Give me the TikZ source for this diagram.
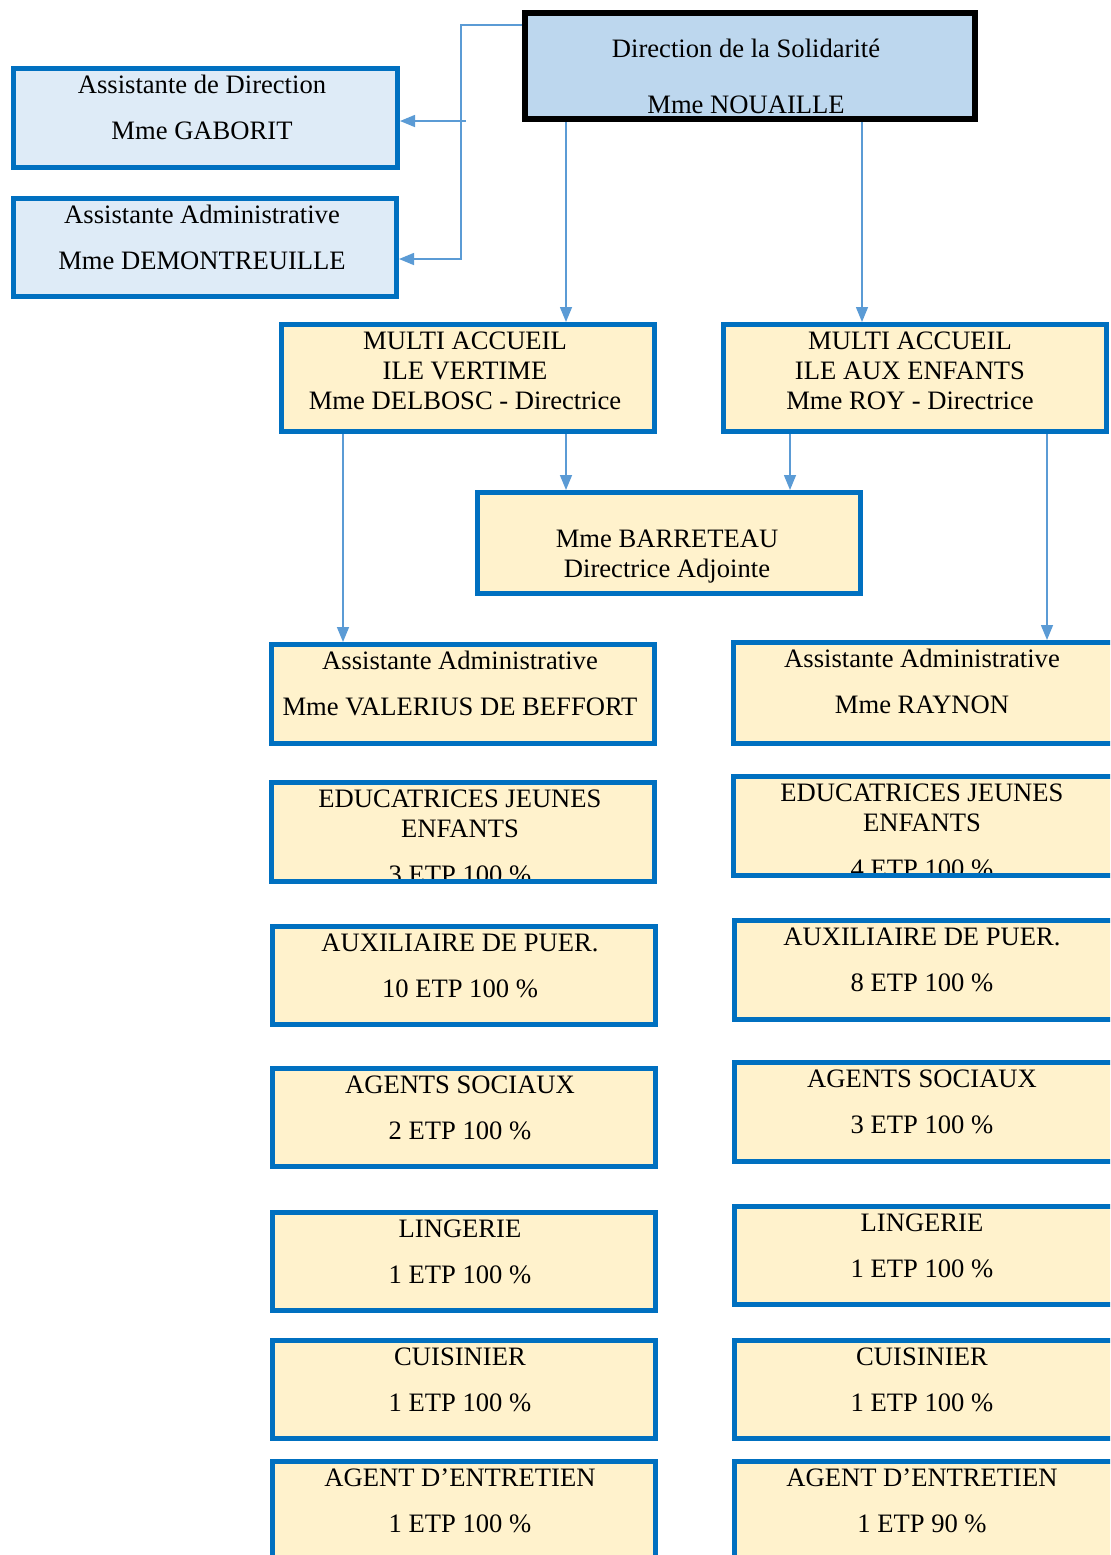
\documentclass[tikz,border=0pt]{standalone}
\usepackage{fontspec}
\setmainfont{Liberation Serif}
\usetikzlibrary{fit,arrows.meta}
\definecolor{yfill}{HTML}{FFF2CC}
\definecolor{bfill}{HTML}{DEEBF7}
\definecolor{dfill}{HTML}{BDD7EE}
\definecolor{bline}{HTML}{0070C0}
\definecolor{conncol}{HTML}{5B9BD5}
\tikzset{
 boxfill/.style={inner sep=0pt, outer sep=0pt, draw=none},
 txt/.style={anchor=base, inner sep=0pt, font=\fontsize{13.3}{15}\selectfont, text=black},
 conn/.style={draw=conncol, line width=0.75pt, -{Triangle[length=7.5pt,width=6pt]}},
}
\newcommand\orgbox[8]{%
 \node[boxfill, fill=#6, fit={(#2,#3) (#4,#5)}] (#1) {};
 \foreach \ty/\lab [count=\k] in {#8} {\node[txt] (#1-\k) at (#7,\ty+8) {\lab};}
 \draw[bline, line width=2.5pt] ([shift={(1.25pt,-1.25pt)}]#1.north west) rectangle ([shift={(-1.25pt,1.25pt)}]#1.south east);
}
\begin{document}
\begin{tikzpicture}[x=0.5pt,y=-0.5pt]
\useasboundingbox (0,0) rectangle (1110,1555);
\clip (0,0) rectangle (1110,1555);
% Direction
\node[boxfill, fill=dfill, fit={(522,10) (978,122)}] (D) {};
\node[txt] (D-1) at (746,57) {Direction de la Solidarité};
\node[txt] (D-2) at (746,113) {Mme NOUAILLE};
\draw[black, line width=3pt] ([shift={(1.5pt,-1.5pt)}]D.north west) rectangle ([shift={(-1.5pt,1.5pt)}]D.south east);
% assistants
\orgbox{AD}{11}{66}{400}{170}{bfill}{202}{85/Assistante de Direction, 131/Mme GABORIT}
\orgbox{AA}{11}{196}{399}{299}{bfill}{202}{215/Assistante Administrative, 261/Mme DEMONTREUILLE}
% multi accueil
\orgbox{V}{279}{322}{657}{434}{yfill}{465}{341/MULTI ACCUEIL, 371/ILE VERTIME, 401/Mme DELBOSC - Directrice}
\orgbox{R}{721}{322}{1109}{434}{yfill}{910}{341/MULTI ACCUEIL, 371/ILE AUX ENFANTS, 401/Mme ROY - Directrice}
\orgbox{B}{475}{490}{863}{596}{yfill}{667}{539/Mme BARRETEAU, 569/Directrice Adjointe}
% left column
\orgbox{LV}{269}{642}{657}{746}{yfill}{460}{661/Assistante Administrative, 707/Mme VALERIUS DE BEFFORT}
\orgbox{LE}{269}{780}{657}{884}{yfill}{460}{799/EDUCATRICES JEUNES, 829/ENFANTS, 875/3 ETP 100 \%}
\orgbox{LA}{270}{924}{658}{1027}{yfill}{460}{943/AUXILIAIRE DE PUER., 989/10 ETP 100 \%}
\orgbox{LS}{270}{1066}{658}{1169}{yfill}{460}{1085/AGENTS SOCIAUX, 1131/2 ETP 100 \%}
\orgbox{LL}{270}{1210}{658}{1313}{yfill}{460}{1229/LINGERIE, 1275/1 ETP 100 \%}
\orgbox{LC}{270}{1338}{658}{1441}{yfill}{460}{1357/CUISINIER, 1403/1 ETP 100 \%}
\orgbox{LD}{270}{1459}{658}{1600}{yfill}{460}{1478/AGENT D’ENTRETIEN, 1524/1 ETP 100 \%}
% right column
\orgbox{RV}{731}{640}{1118}{746}{yfill}{922}{659/Assistante Administrative, 705/Mme RAYNON}
\orgbox{RE}{731}{774}{1118}{878}{yfill}{922}{793/EDUCATRICES JEUNES, 823/ENFANTS, 869/4 ETP 100 \%}
\orgbox{RA}{732}{918}{1118}{1022}{yfill}{922}{937/AUXILIAIRE DE PUER., 983/8 ETP 100 \%}
\orgbox{RS}{732}{1060}{1118}{1164}{yfill}{922}{1079/AGENTS SOCIAUX, 1125/3 ETP 100 \%}
\orgbox{RL}{732}{1204}{1118}{1307}{yfill}{922}{1223/LINGERIE, 1269/1 ETP 100 \%}
\orgbox{RC}{732}{1338}{1118}{1441}{yfill}{922}{1357/CUISINIER, 1403/1 ETP 100 \%}
\orgbox{RD}{732}{1459}{1118}{1600}{yfill}{922}{1478/AGENT D’ENTRETIEN, 1524/1 ETP 90 \%}
% connectors
\coordinate (j1) at (461,25);
\coordinate (j2) at (466,121);
\coordinate (j3) at (461,259);
\coordinate (c1) at (566,0);
\coordinate (c2) at (862,0);
\coordinate (c3) at (790,0);
\coordinate (c4) at (343,0);
\coordinate (c5) at (1047,0);
\draw[conn] (D.west |- j1) -- (j1) -- (j3) -- (AA.east |- j3);
\draw[conn] (j2) -- (AD.east |- j2);
\draw[conn] (D.south -| c1) -- (V.north -| c1);
\draw[conn] (D.south -| c2) -- (R.north -| c2);
\draw[conn] (V.south -| c1) -- (B.north -| c1);
\draw[conn] (R.south -| c3) -- (B.north -| c3);
\draw[conn] (V.south -| c4) -- (LV.north -| c4);
\draw[conn] (R.south -| c5) -- (RV.north -| c5);
\end{tikzpicture}
\end{document}
